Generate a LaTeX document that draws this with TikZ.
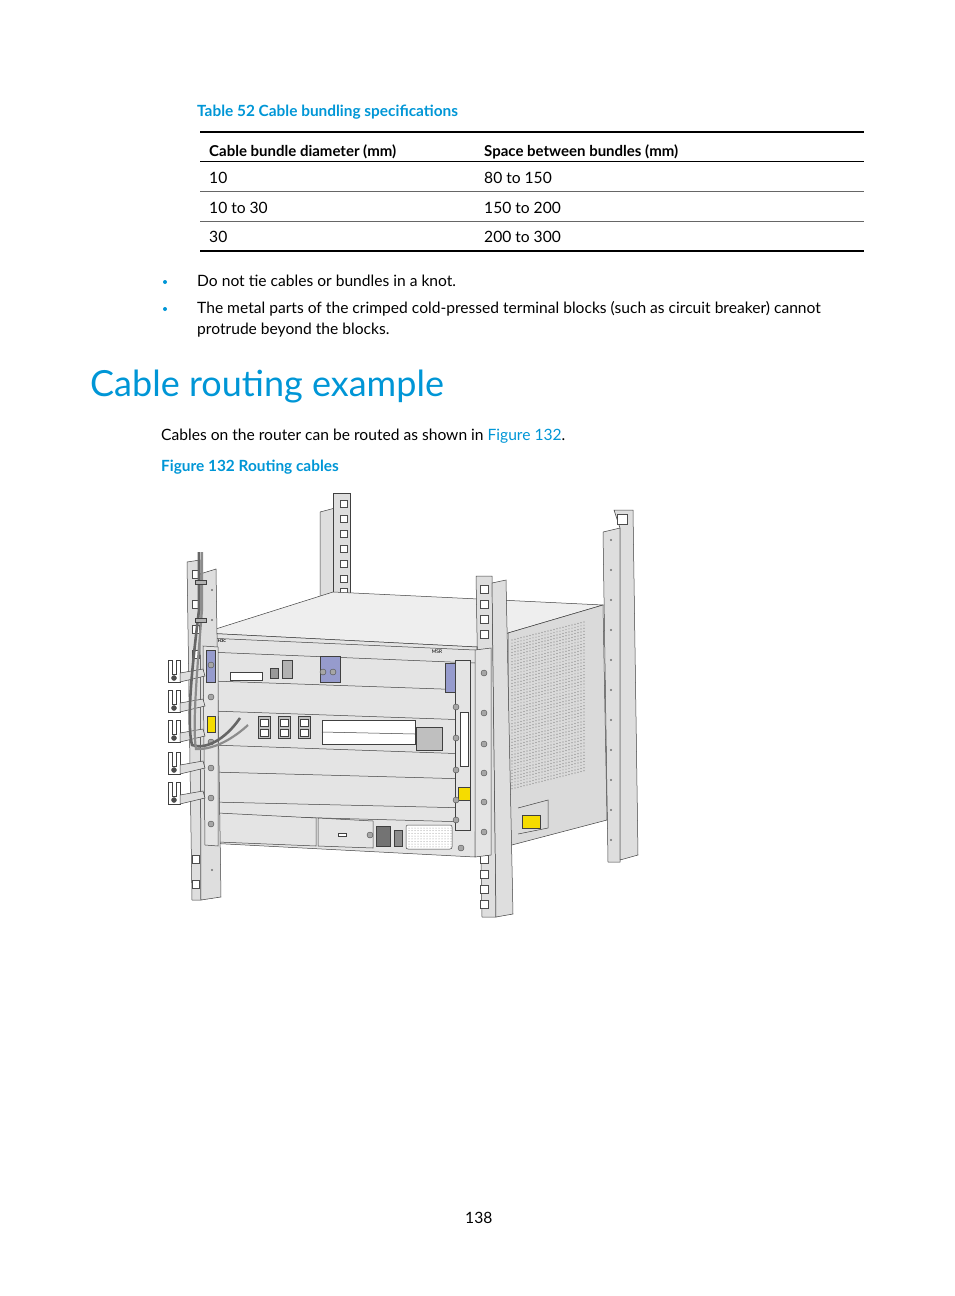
\documentclass[tikz,border=0pt]{standalone}
\usepackage{fontspec}
\setmainfont{Lato}
\definecolor{hpblue}{RGB}{0,150,214}
\definecolor{slotpurple}{RGB}{150,155,205}
\definecolor{postgray}{RGB}{222,222,222}
\definecolor{topgray}{RGB}{238,238,238}
\definecolor{frontgray}{RGB}{228,228,228}
\definecolor{sidegray}{RGB}{218,218,218}
\definecolor{warnyellow}{RGB}{245,220,0}
\tikzset{
  body/.style={anchor=base west,inner sep=0pt,font=\fontsize{15.6}{18}\selectfont},
  bodyb/.style={anchor=base west,inner sep=0pt,font=\fontsize{15}{18}\selectfont\bfseries},
  capt/.style={anchor=base west,inner sep=0pt,text=hpblue,font=\fontsize{15.4}{18}\selectfont\bfseries},
  ln/.style={draw=black!75,line width=0.5pt},
  hole/.style={draw=black!70,fill=white,line width=0.5pt},
  screw/.style={circle,draw=black!70,fill=black!35,inner sep=0pt,minimum size=6pt},
}
\begin{document}
\begin{tikzpicture}[x=1pt,y=-1pt]
\useasboundingbox (0,0) rectangle (954,1296);
% ---------- text ----------
\node[capt] (tcap) at (197,116) {Table 52 Cable bundling specifications};
\draw[line width=2pt] (200,132) -- (864,132);
\node[bodyb] (h1) at (209,156) {Cable bundle diameter (mm)};
\node[bodyb] (h2) at (484,156) {Space between bundles (mm)};
\draw[line width=0.8pt] (200,161) -- (864,161);
\node[body] (r1a) at (209,183) {10};
\node[body] (r1b) at (484,183) {80 to 150};
\draw[line width=0.4pt,black!60] (200,191) -- (864,191);
\node[body] (r2a) at (209,213) {10 to 30};
\node[body] (r2b) at (484,213) {150 to 200};
\draw[line width=0.4pt,black!60] (200,221) -- (864,221);
\node[body] (r3a) at (209,242) {30};
\node[body] (r3b) at (484,242) {200 to 300};
\draw[line width=2.5pt] (200,251) -- (864,251);
\fill[hpblue] (165,282) circle (2pt);
\node[body] (b1) at (197,286) {Do not tie cables or bundles in a knot.};
\fill[hpblue] (165,309) circle (2pt);
\node[body] (b2) at (197,313) {The metal parts of the crimped cold-pressed terminal blocks (such as circuit breaker) cannot};
\node[body] (b3) at (197,334) {protrude beyond the blocks.};
\node[anchor=base west,inner sep=0pt,text=hpblue,font=\fontsize{36}{42}\selectfont] (title) at (90,396) {Cable routing example};
\node[body] (p1) at (161,440) {Cables on the router can be routed as shown in \textcolor{hpblue}{Figure 132}.};
\node[capt] (fcap) at (161,471) {Figure 132 Routing cables};
\node[body] (pg) at (465,1223) {138};
% ---------- rear posts ----------
\filldraw[ln,fill=postgray] (320,512) -- (335,508) -- (335,597) -- (320,597) -- cycle;
\filldraw[ln,fill=postgray] (333,493) -- (350,493) -- (350,597) -- (333,597) -- cycle;
\foreach \y in {500,515,530,545,560,575,588} \draw[hole] (340,\y) rectangle (347,\y+7);
\filldraw[ln,fill=postgray] (603,532) -- (620,528) -- (620,862) -- (608,862) -- cycle;
\filldraw[ln,fill=postgray] (614,510) -- (633,510) -- (638,855) -- (620,860) -- (620,528) -- cycle;
\draw[hole] (617,514) rectangle (627,524);
\foreach \y in {540,570,600,630,660,690,720,750,780,810,840} \fill[black!55] (611,\y) circle (1.2pt);
% ---------- chassis ----------
\filldraw[ln,fill=topgray] (203,633) -- (333,592) -- (603,605) -- (508,633) -- (477,647) -- cycle;
\filldraw[ln,fill=sidegray] (508,633) -- (603,605) -- (607,820) -- (508,846) -- cycle;
% grille
\foreach \i in {0,...,24} \foreach \j in {0,...,48}
  \fill[black!50] ({512+\i*3},{640+\j*3.1-\i*0.75}) circle (0.6pt);
\filldraw[ln,fill=warnyellow] (522,815) rectangle (540,828);
\draw[ln] (518,808) -- (548,800) -- (548,828) -- (518,834);
\filldraw[ln,fill=frontgray] (203,633) -- (477,647) -- (475,857) -- (207,843) -- cycle;
\draw[ln] (207,638) -- (475,650);
\draw[ln] (207,652) -- (475,663);
\node[font=\fontsize{4}{4}\selectfont\bfseries,inner sep=0pt] (logo) at (222,641) {H3C};
\node[font=\fontsize{5}{5}\selectfont,inner sep=0pt,rotate=2] (mod) at (437,652) {MSR};
\foreach \ya/\yb in {681/690,711/720,745/754,772/779,802/808,815/822}
  \draw[ln] (212,\ya) -- (470,\yb);
\filldraw[ln,fill=slotpurple] (320,656) rectangle (340,682);
\filldraw[ln,fill=slotpurple] (445,663) rectangle (456,692);
\draw[ln,fill=white] (230,672) rectangle (262,680);
\filldraw[ln,fill=black!40] (270,668) rectangle (278,678);
\filldraw[ln,fill=black!30] (282,660) rectangle (292,678);
\foreach \x in {323,333} \node[screw] (s\x) at (\x,672) {};
\fill[green!60!black] (464,676) circle (1.8pt);
\fill[red!80!black] (464,684) circle (1.8pt);
\foreach \x in {258,278,298} {\filldraw[ln,fill=black!25] (\x,716) rectangle (\x+12,738);
  \draw[ln,fill=white] (\x+2,719) rectangle (\x+10,726); \draw[ln,fill=white] (\x+2,729) rectangle (\x+10,736);}
\filldraw[ln,fill=white] (322,720) rectangle (415,744);
\draw[ln] (322,732) -- (415,734);
\filldraw[ln,fill=black!25] (416,727) rectangle (442,750);
\filldraw[ln,fill=frontgray] (455,660) -- (470,660) -- (470,830) -- (455,830) -- cycle;
\draw[ln,fill=white] (460,712) rectangle (468,766);
\filldraw[ln,fill=warnyellow] (458,787) rectangle (470,800);
\filldraw[ln,fill=frontgray] (218,813) -- (316,818) -- (316,846) -- (218,842) -- cycle;
\filldraw[ln,fill=frontgray] (318,818) -- (373,821) -- (373,848) -- (318,846) -- cycle;
\draw[ln,fill=white] (338,833) rectangle (346,836);
\filldraw[ln,fill=black!55] (376,826) rectangle (390,846);
\filldraw[ln,fill=black!45] (394,830) rectangle (402,846);
\draw[ln,fill=white,rounded corners=2pt] (406,825) rectangle (452,849);
\foreach \i in {0,...,14} \foreach \j in {0,...,7} \fill[black!45] ({409+\i*3},{828+\j*2.7}) circle (0.5pt);
\foreach \p in {(456,707),(456,738),(456,770),(456,800),(456,820),(370,835),(461,848)}
  \node[screw] at \p {};
% ---------- front posts ----------
\filldraw[ln,fill=postgray] (187,562) -- (200,560) -- (201,900) -- (192,900) -- cycle;
\filldraw[ln,fill=postgray] (200,574) -- (216,569) -- (221,897) -- (201,900) -- cycle;
\foreach \y in {570,600,625,650,855,880} \draw[hole] (192,\y) rectangle (199,\y+8);
\foreach \y in {590,620,870} \fill[black!55] (212,\y) circle (1.2pt);
% left mounting ear
\filldraw[ln,fill=frontgray] (203,646) -- (218,647) -- (218,846) -- (205,845) -- cycle;
\filldraw[ln,fill=slotpurple] (206,650) rectangle (215,682);
\filldraw[ln,fill=warnyellow] (207,716) rectangle (215,732);
\foreach \y in {665,697,742,768,798,824} \node[screw] at (211,\y) {};
\filldraw[ln,fill=postgray] (476,576) -- (492,576) -- (496,917) -- (482,917) -- cycle;
\filldraw[ln,fill=postgray] (492,583) -- (506,580) -- (513,914) -- (496,917) -- cycle;
\foreach \y in {585,600,615,630,855,870,885,900} \draw[hole] (480,\y) rectangle (488,\y+8);
\filldraw[ln,fill=frontgray] (475,650) -- (491,648) -- (491,855) -- (475,857) -- cycle;
\foreach \y in {673,713,744,773,802,832} \node[screw] at (484,\y) {};
% ---------- cable clips ----------
\foreach \y [count=\k] in {660,690,720,752,782} {
  \filldraw[ln,fill=white] (168,\y) -- (168,\y+22) -- (180,\y+22) -- (180,\y) -- (176,\y) -- (176,\y+14) -- (172,\y+14) -- (172,\y) -- cycle;
  \node[screw,minimum size=5pt,fill=black!70] (c\k) at (174,\y+18) {};
  \filldraw[ln,fill=postgray] (180,\y+13) -- (203,\y+9) -- (205,\y+16) -- (180,\y+22) -- cycle;
}
% ---------- cables ----------
\coordinate (ctop) at (199,552);
\coordinate (cend1) at (240,718);
\coordinate (cend2) at (248,725);
\draw[black!60,line width=2.6pt] (ctop) -- (199,610) .. controls (193,660) and (186,720) .. (192,745) .. controls (205,750) and (225,740) .. (cend1);
\draw[black!45,line width=2.2pt] (202,552) -- (202,610) .. controls (198,660) and (192,725) .. (196,749) .. controls (215,750) and (235,737) .. (cend2);
\foreach \y in {580,618} \filldraw[ln,fill=black!30] (195,\y) rectangle (206,\y+4);
\end{tikzpicture}
\end{document}
